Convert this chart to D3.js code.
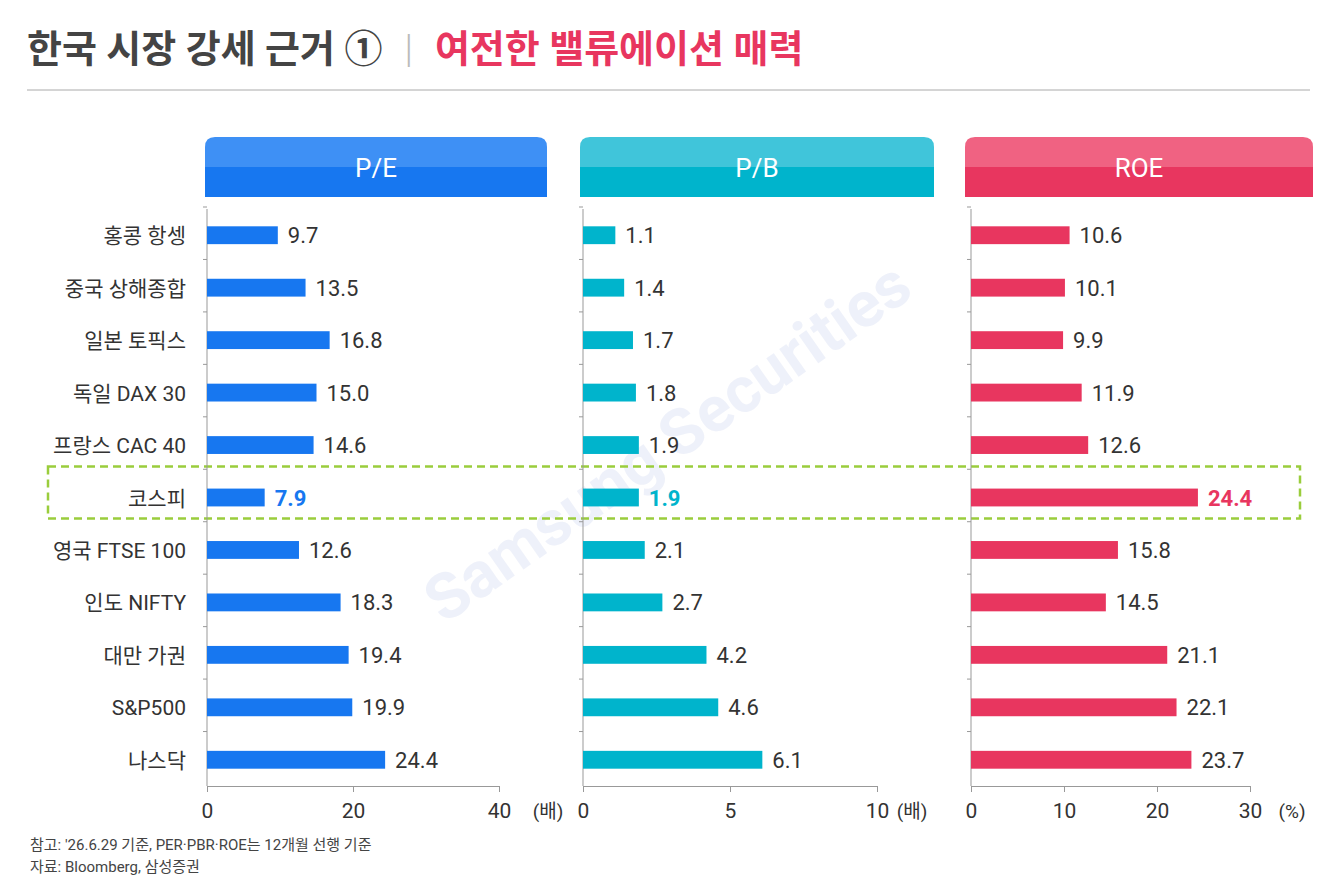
<!DOCTYPE html>
<html><head><meta charset="utf-8">
<script src="https://cdn.jsdelivr.net/npm/d3@7"></script>
<style>body{margin:0;background:#fff;font-family:Roboto,"Noto Sans CJK KR",sans-serif}</style>
</head><body><svg width="1329" height="881"></svg>
<script>
var markets = ["홍콩 항셍","중국 상해종합","일본 토픽스","독일 DAX 30","프랑스 CAC 40","코스피","영국 FTSE 100","인도 NIFTY","대만 가권","S&P500","나스닥"];
var pe = [9.7,13.5,16.8,15.0,14.6,7.9,12.6,18.3,19.4,19.9,24.4];
var pb = [1.1,1.4,1.7,1.8,1.9,1.9,2.1,2.7,4.2,4.6,6.1];
var roe = [10.6,10.1,9.9,11.9,12.6,24.4,15.8,14.5,21.1,22.1,23.7];
var highlight = "코스피";

var svg = d3.select("svg");
var font = 'Roboto,"Noto Sans CJK KR",sans-serif';

// title
var title = svg.append("text").attr("x", 27).attr("y", 62).attr("font-size", 38).attr("font-weight", 700).attr("font-family", font);
title.append("tspan").attr("fill", "#444").text("한국 시장 강세 근거 ①");
title.append("tspan").attr("fill", "#bbb").attr("font-weight", 300).attr("dx", 22).text("|");
title.append("tspan").attr("fill", "#e8365f").attr("dx", 22).text("여전한 밸류에이션 매력");
svg.append("line").attr("x1", 27).attr("x2", 1310).attr("y1", 90).attr("y2", 90).attr("stroke", "#aaa");

// watermark
svg.append("text").attr("transform", "translate(680,460) rotate(-35)").attr("text-anchor", "middle")
  .attr("font-size", 64).attr("font-weight", 700).attr("fill", "#e8ecf8").attr("opacity", 0.7).attr("font-family", font).text("Samsung Securities");

var y = d3.scaleBand().domain(markets).range([209, 786]).paddingInner(0.66).paddingOuter(0.33);

var panels = [
  {name: "P/E", data: pe, max: 40, ticks: [0,20,40], x0: 207, x1: 499, hx: [205,547], top: "#3e90f5", bot: "#1777f0", unit: "(배)", ux: 548},
  {name: "P/B", data: pb, max: 10, ticks: [0,5,10], x0: 583, x1: 877, hx: [580,934], top: "#40c5da", bot: "#00b4cc", unit: "(배)", ux: 912},
  {name: "ROE", data: roe, max: 30, ticks: [0,10,20,30], x0: 971, x1: 1250, hx: [965,1313], top: "#f06282", bot: "#e8365f", unit: "(%)", ux: 1292}
];

// highlight box
svg.append("rect").attr("x", 48).attr("y", y(highlight) - 22).attr("width", 1252).attr("height", 52)
  .attr("fill", "none").attr("stroke", "#9acd3c").attr("stroke-width", 2.5).attr("stroke-dasharray", "8,5");

panels.forEach(function (p) {
  var g = svg.append("g");
  var w = p.hx[1] - p.hx[0];
  g.append("path").attr("d", "M" + p.hx[0] + ",197 V147 Q" + p.hx[0] + ",137 " + (p.hx[0] + 10) + ",137 H" + (p.hx[1] - 10) + " Q" + p.hx[1] + ",137 " + p.hx[1] + ",147 V197 Z").attr("fill", p.top);
  g.append("rect").attr("x", p.hx[0]).attr("y", 167).attr("width", w).attr("height", 30).attr("fill", p.bot);
  g.append("text").attr("x", p.hx[0] + w / 2).attr("y", 177).attr("text-anchor", "middle").attr("fill", "#fff")
    .attr("font-size", 26).attr("font-family", font).text(p.name);

  var x = d3.scaleLinear().domain([0, p.max]).range([p.x0, p.x1]);
  var ax = g.append("g").attr("transform", "translate(0,786)")
    .call(d3.axisBottom(x).tickValues(p.ticks).tickSize(6).tickFormat(d3.format("d")));
  ax.select(".domain").attr("stroke", "#999");
  ax.selectAll("line").attr("stroke", "#999");
  ax.selectAll("text").attr("font-size", 21).attr("fill", "#333").attr("font-family", font).attr("dy", "1.1em");
  g.append("text").attr("x", p.ux).attr("y", 818).attr("text-anchor", "middle").attr("font-size", 19).attr("fill", "#333").attr("font-family", font).text(p.unit);
  g.append("line").attr("x1", p.x0).attr("x2", p.x0).attr("y1", 209).attr("y2", 786).attr("stroke", "#999");
  y.domain().forEach(function (m) {
    g.append("line").attr("x1", p.x0 - 4).attr("x2", p.x0).attr("y1", y(m) - y.step() * 0.33 - 2).attr("y2", y(m) - y.step() * 0.33 - 2).attr("stroke", "#999");
  });

  g.selectAll(".bar").data(p.data).enter().append("rect")
    .attr("x", p.x0).attr("y", function (d, i) { return y(markets[i]); })
    .attr("width", function (d) { return x(d) - p.x0; }).attr("height", y.bandwidth())
    .attr("fill", p.bot);
  g.selectAll(".lab").data(p.data).enter().append("text")
    .attr("x", function (d) { return x(d) + 10; }).attr("y", function (d, i) { return y(markets[i]) + y.bandwidth() / 2 + 8; })
    .attr("font-size", 22).attr("font-family", font)
    .attr("fill", function (d, i) { return markets[i] === highlight ? p.bot : "#333"; })
    .attr("font-weight", function (d, i) { return markets[i] === highlight ? 700 : 400; })
    .text(function (d) { return d3.format(".1f")(d); });
});

svg.selectAll(".cat").data(markets).enter().append("text")
  .attr("x", 186).attr("y", function (d) { return y(d) + y.bandwidth() / 2 + 8; })
  .attr("text-anchor", "end").attr("font-size", 21).attr("fill", "#333").attr("font-family", font).text(function (d) { return d; });

svg.append("text").attr("x", 30).attr("y", 850).attr("font-size", 15).attr("fill", "#444").attr("font-family", font).text("참고: '26.6.29 기준, PER·PBR·ROE는 12개월 선행 기준");
svg.append("text").attr("x", 30).attr("y", 872).attr("font-size", 15).attr("fill", "#444").attr("font-family", font).text("자료: Bloomberg, 삼성증권");
</script></body></html>
